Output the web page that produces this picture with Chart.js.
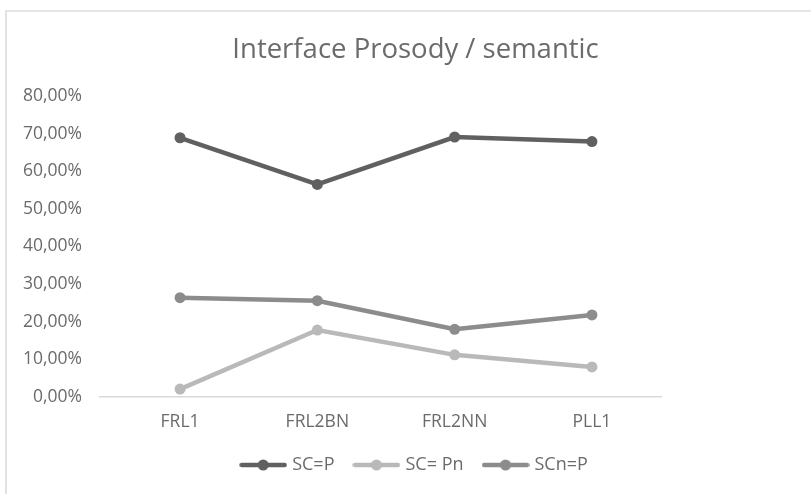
<!DOCTYPE html>
<html>
<head>
<meta charset="utf-8">
<script src="https://cdn.jsdelivr.net/npm/chart.js@4.4.0/dist/chart.umd.min.js"></script>
<style>
  body { margin: 0; background: #fff; }
  #wrap { position: relative; width: 811px; height: 494px; overflow: hidden; }
  #frame { position: absolute; left: 5px; top: 10px; width: 900px; height: 600px;
           border-left: 2px solid #e2e2e2; border-top: 2px solid #e6e6e6; }
  canvas { position: absolute; left: 0; top: 0; }
</style>
</head>
<body>
<div id="wrap">
  <div id="frame"></div>
  <canvas id="myChart" width="811" height="494"></canvas>
</div>
<script>
const labels = ['FRL1', 'FRL2BN', 'FRL2NN', 'PLL1'];
const seriesNames = ['SC=P', 'SC= Pn', 'SCn=P'];
const scP = [68.9, 56.5, 69.1, 67.9];
const scPn = [2.1, 17.8, 11.2, 8.0];
const scnP = [26.4, 25.6, 18.0, 21.8];
const yTicks = [0, 10, 20, 30, 40, 50, 60, 70, 80];

const colors = ['#606060', '#b9b9b9', '#8c8c8c'];
const textColor = '#6b6b6b';
const font = "'Open Sans', sans-serif";

// legend icon: short line with a dot in the middle
function legendIcon(color) {
    const c = document.createElement('canvas');
    c.width = 48;
    c.height = 12;
    const ctx = c.getContext('2d');
    ctx.strokeStyle = color;
    ctx.lineWidth = 4.5;
    ctx.lineCap = 'round';
    ctx.beginPath();
    ctx.moveTo(2.5, 6);
    ctx.lineTo(45.5, 6);
    ctx.stroke();
    ctx.fillStyle = color;
    ctx.beginPath();
    ctx.arc(24, 6, 5.5, 0, Math.PI * 2);
    ctx.fill();
    return c;
}
const icons = colors.map(legendIcon);

function makeSet(i, values) {
    return {
        label: seriesNames[i],
        // categories sit on x = 0..3
        data: values.map(function (v, k) { return { x: k, y: v }; }),
        borderColor: colors[i],
        backgroundColor: colors[i],
        borderWidth: 4.5,
        pointRadius: 5.5,
        pointHoverRadius: 5.5,
        pointBorderWidth: 0,
        tension: 0,
        yAxisID: 'y'
    };
}

const data = {
    datasets: [makeSet(0, scP), makeSet(1, scPn), makeSet(2, scnP)]
};

const config = {
    type: 'line',
    data: data,
    options: {
        responsive: false,
        animation: false,
        layout: { padding: { top: 34, left: 20, right: 0, bottom: 10 } },
        plugins: {
            title: {
                display: true,
                text: 'Interface Prosody / semantic',
                color: textColor,
                font: { family: font, size: 27.5, weight: 'normal' },
                padding: { top: 0, bottom: 29 }
            },
            legend: {
                position: 'bottom',
                labels: {
                    usePointStyle: true,
                    pointStyleWidth: 40,
                    color: textColor,
                    font: { family: font, size: 18 },
                    padding: 22,
                    generateLabels: function (chart) {
                        const items = Chart.defaults.plugins.legend.labels.generateLabels(chart);
                        items.forEach(function (it, i) { it.pointStyle = icons[i]; });
                        return items;
                    }
                }
            },
            tooltip: { enabled: false }
        },
        scales: {
            x: {
                type: 'linear',
                min: -0.583,
                max: 3.503,
                afterBuildTicks: function (axis) {
                    axis.ticks = labels.map(function (l, k) { return { value: k }; });
                },
                grid: { display: false, drawTicks: false },
                border: { display: true, color: '#d9d9d9', width: 1.5 },
                ticks: {
                    color: textColor,
                    font: { family: font, size: 17.5 },
                    padding: 15,
                    callback: function (value) { return labels[value]; }
                },
                afterFit: function (axis) { axis.height -= 14; }
            },
            y: {
                min: 0,
                max: 80,
                afterBuildTicks: function (axis) {
                    axis.ticks = yTicks.map(function (v) { return { value: v }; });
                },
                grid: { display: false, drawTicks: false },
                border: { display: false },
                ticks: {
                    color: textColor,
                    font: { family: font, size: 17.5 },
                    padding: 18,
                    callback: function (value) {
                        return value.toFixed(2).replace('.', ',') + '%';
                    }
                },
                afterFit: function (axis) { axis.width = 80; }
            },
            // empty space to the right of the plot
            yRight: {
                position: 'right',
                min: 0,
                max: 80,
                grid: { display: false, drawTicks: false },
                border: { display: false },
                ticks: { display: false },
                afterFit: function (axis) { axis.width = 150; }
            }
        }
    }
};

const myChart = new Chart(document.getElementById('myChart'), config);
</script>
</body>
</html>
